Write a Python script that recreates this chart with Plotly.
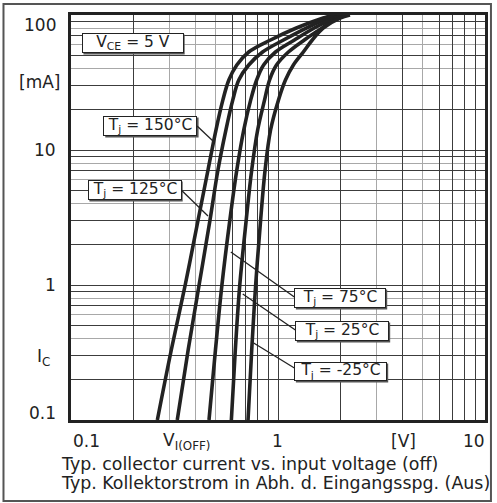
import plotly.graph_objects as go

# ---- data ----
temps = ["150°C", "125°C", "75°C", "25°C", "-25°C"]

# collector current levels [mA] at which each curve was read
i_levels = [0.1, 0.330, 1.0, 3.03, 7.11, 14.06, 23.5, 33.0, 42.6, 53.2, 65.3, 80.1, 95.0, 100.0]

# input voltage [V] of each curve at those current levels
v_150 = [0.2613, 0.3051, 0.3562, 0.4111, 0.4591, 0.5015, 0.5418, 0.5789, 0.6324, 0.7221, 0.9206, 1.2267, 1.6526, 1.8664]
v_125 = [0.3261, 0.3681, 0.4157, 0.4694, 0.5127, 0.5601, 0.6050, 0.6465, 0.7221, 0.8426, 1.0626, 1.3700, 1.7471, 1.9507]
v_75 = [0.4642, 0.4987, 0.5359, 0.5854, 0.6324, 0.6831, 0.7382, 0.7887, 0.8520, 0.9728, 1.2000, 1.4965, 1.8664, 2.0387]
v_25 = [0.5952, 0.6220, 0.6536, 0.7022, 0.7464, 0.7975, 0.8614, 0.9104, 0.9836, 1.1228, 1.3401, 1.6345, 1.9081, 2.1310]
v_m25 = [0.7165, 0.7464, 0.7800, 0.8242, 0.8662, 0.9206, 1.0055, 1.0864, 1.1868, 1.3254, 1.4638, 1.6526, 1.9942, 2.2270]

series_v = [v_150, v_125, v_75, v_25, v_m25]

x_grid_dark = [0.1, 0.2, 0.6, 0.7, 0.8, 0.9, 1, 2, 4, 6, 7, 8, 9, 10]
x_grid_light = [0.3, 0.4, 0.5, 3, 5]
y_grid_dark = [0.1, 0.2, 0.3, 0.5, 0.7, 0.9, 1, 2, 3, 5, 7, 9, 10, 20, 30, 50, 70, 90, 100]
y_grid_light = [0.4, 0.6, 0.8, 4, 6, 8, 40, 60, 80]

# ---- layout geometry ----
W, H = 497, 503
L, R, T, B = 71, 488, 15, 420
FONT = "DejaVu Sans"
INK = "#222222"


def px(x):
    return (x - L) / (R - L)


def py(y):
    return (B - y) / (B - T)


fig = go.Figure()
for v, t in zip(series_v, temps):
    fig.add_trace(go.Scatter(x=v, y=i_levels, mode="lines", name=t,
                             line=dict(color=INK, width=3.6, shape="spline", smoothing=1.0),
                             showlegend=False, hoverinfo="skip"))

annotations = []
shapes = []


def txt(x, y, s, anchor="center", size=17):
    annotations.append(dict(x=px(x), y=py(y), xref="paper", yref="paper", text=s,
                            showarrow=False, xanchor=anchor, yanchor="middle",
                            font=dict(family=FONT, size=size, color=INK)))


txt(58, 25, "100", "right")
txt(62, 82, "[mA]", "right")
txt(58, 150, "10", "right")
txt(58, 285, "1", "right")
txt(35, 357, "I<sub>C</sub>", "left")
txt(58, 413, "0.1", "right")

txt(87, 441, "0.1")
txt(162, 441, "V<sub>I(OFF)</sub>", "left")
txt(279, 441, "1")
txt(406, 441, "[V]")
txt(477, 441, "10")

txt(59, 464, "Typ. collector current vs. input voltage (off)", "left", 17.4)
txt(59, 483, "Typ. Kollektorstrom in Abh. d. Eingangsspg. (Aus)", "left", 17.4)

boxes = [
    ("V<sub>CE</sub> = 5 V", 82, 33, 184, 53),
    ("T<sub>j</sub> = 150°C", 104, 116, 198, 136),
    ("T<sub>j</sub> = 125°C", 88, 180, 182, 200),
    ("T<sub>j</sub> = 75°C", 296, 288, 388, 308),
    ("T<sub>j</sub> = 25°C", 297, 321, 391, 341),
    ("T<sub>j</sub> = -25°C", 296, 362, 389, 381),
]
for s, x0, y0, x1, y1 in boxes:
    shapes.append(dict(type="rect", xref="paper", yref="paper",
                       x0=px(x0 + 1.5), x1=px(x1 + 1.5), y0=py(y0 + 1.5), y1=py(y1 + 1.5),
                       fillcolor="#555555", line=dict(width=0)))
    annotations.append(dict(x=px((x0 + x1) / 2), y=py((y0 + y1) / 2), xref="paper", yref="paper",
                            text=s, showarrow=False, xanchor="center", yanchor="middle",
                            width=x1 - x0 - 2, height=y1 - y0 - 2, borderpad=0,
                            bgcolor="white", bordercolor=INK, borderwidth=1,
                            font=dict(family=FONT, size=15.5, color=INK)))

leaders = [(198, 126, 214, 141), (182, 190, 209, 216), (296, 297, 232, 252),
           (297, 330, 244, 294), (296, 368, 255, 343)]
for x0, y0, x1, y1 in leaders:
    shapes.append(dict(type="line", xref="paper", yref="paper",
                       x0=px(x0), y0=py(y0), x1=px(x1), y1=py(y1),
                       line=dict(color=INK, width=1.3)))

shapes.append(dict(type="rect", xref="paper", yref="paper",
                   x0=px(3), x1=px(494), y0=py(4), y1=py(501),
                   line=dict(color="#555555", width=2), layer="below"))

axis_common = dict(type="log", showline=True, mirror=True, linecolor=INK, linewidth=3,
                   ticks="", showticklabels=False, zeroline=False, showgrid=True,
                   gridcolor="#3c3c3c", gridwidth=1)

fig.update_layout(
    width=W, height=H,
    margin=dict(l=L, r=W - R, t=T, b=H - B, pad=0),
    paper_bgcolor="white", plot_bgcolor="white",
    xaxis=dict(range=[-1, 1], tickmode="array", tickvals=x_grid_dark,
               minor=dict(tickmode="array", tickvals=x_grid_light, showgrid=True,
                          gridcolor="#a8a8a8", gridwidth=1, ticks=""),
               **axis_common),
    yaxis=dict(range=[-1, 2], tickmode="array", tickvals=y_grid_dark,
               minor=dict(tickmode="array", tickvals=y_grid_light, showgrid=True,
                          gridcolor="#a8a8a8", gridwidth=1, ticks=""),
               **axis_common),
    annotations=annotations,
    shapes=shapes,
)

fig.write_html("out.html", config={"displayModeBar": False, "staticPlot": True},
               post_script="document.body.style.margin='0';document.body.style.padding='0';document.body.style.overflow='hidden';")
